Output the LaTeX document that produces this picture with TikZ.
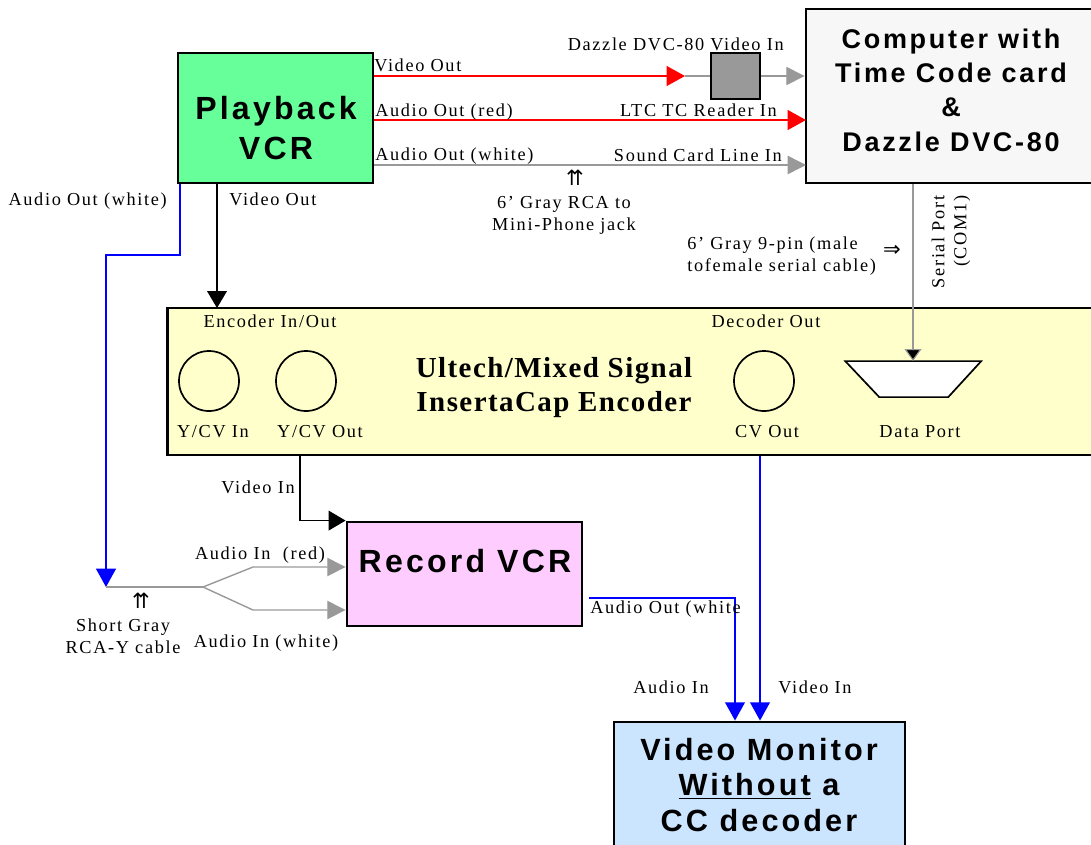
\documentclass[tikz,border=0pt]{standalone}
\usepackage{fontspec}
\usetikzlibrary{arrows.meta}
\usetikzlibrary{positioning}
\newfontfamily\labelfont[LetterSpace=9]{Liberation Serif}
\newfontfamily\titlefont[LetterSpace=5]{Liberation Serif}
\newfontfamily\boxfont[LetterSpace=10]{Liberation Sans}
\newfontfamily\symfont{DejaVu Sans}
\definecolor{vcrgreen}{HTML}{66FF99}
\definecolor{pcgray}{HTML}{F7F7F7}
\definecolor{encyellow}{HTML}{FFFFCC}
\definecolor{recpink}{HTML}{FFCCFF}
\definecolor{monblue}{HTML}{CCE5FF}
\definecolor{wiregray}{HTML}{999999}
\newcommand{\dataport}{\draw[line width = 1.2pt, fill = white] (-68,0) -- (68,0) -- (35,36) -- (-34,36) -- cycle;}
\tikzset{
	unit/.style = {draw, line width = 2pt, inner sep = 0pt},
	boxtitle/.style = {inner sep = 0pt, align = center, font = \boxfont\bfseries\fontsize{22.8}{28.5}\selectfont},
	lbl/.style = {inner sep = 0pt, font = \labelfont\fontsize{13}{15.6}\selectfont},
	upsign/.style = {inner sep = 0pt, font = \symfont\fontsize{15}{16}\selectfont},
	jack/.style = {circle, draw, line width = 1.2pt, minimum size = 1.5cm, inner sep = 0pt},
	redwire/.style = {draw = red, line width = 1.3pt, -{Triangle[length = 13pt, width = 14pt]}},
	graywire/.style = {draw = wiregray, line width = 1pt, -{Triangle[length = 13pt, width = 13pt]}},
	bluewire/.style = {draw = blue, line width = 1.4pt, -{Triangle[length = 13pt, width = 14pt]}},
	blackwire/.style = {draw = black, line width = 0.8pt, -{Triangle[length = 12pt, width = 14pt]}},
	serialwire/.style = {draw = wiregray, line width = 0.8pt, -{Triangle[length = 8.5pt, width = 12pt, fill = black]}}
}

\begin{document}
\begin{tikzpicture}[x = 0.025cm, y = -0.025cm]
	\useasboundingbox (0,0) rectangle (1091,844);
	\clip (0,0) rectangle (1091,844);

	% units
	\node[unit, fill = vcrgreen, minimum width = 4.875cm, minimum height = 3.25cm] (playback) at (275.5,118) {};
	\node[unit, fill = pcgray, minimum width = 7.3cm, minimum height = 4.35cm] (computer) at (952,96) {};
	\node[draw, line width = 1pt, fill = wiregray, minimum width = 1.225cm, minimum height = 1.15cm, inner sep = 0pt] (dazzle) at (735.5,76) {};
	\node[unit, fill = encyellow, minimum width = 23.55cm, minimum height = 3.675cm] (encoder) at (639,381.5) {};
	\node[unit, fill = recpink, minimum width = 5.875cm, minimum height = 2.6cm] (record) at (464.5,574) {};
	\node[unit, fill = monblue, minimum width = 7.275cm, minimum height = 3.95cm] (monitor) at (759.5,801) {};

	\node[boxtitle] (playbacktxt) at (276,128) {Playback\\VCR};
	\node[boxtitle, font = \boxfont\bfseries\fontsize{19.2}{24.4}\selectfont] (computertxt) at (951,90) {Computer with\\Time Code card\\\&\\Dazzle DVC-80};
	\node[boxtitle] (recordtxt) at (465,561) {Record VCR};
	\node[boxtitle, font = \boxfont\bfseries\fontsize{21.8}{25}\selectfont] (monitortxt) at (759,785) {Video Monitor\\\underline{Without} a\\CC decoder};
	\node[inner sep = 0pt, align = center, font = \titlefont\bfseries\fontsize{20.6}{24.2}\selectfont] (encodertxt) at (554,388) {Ultech/Mixed Signal\\InsertaCap Encoder};

	% encoder panel
	\node[jack] (ycvin) at (209,381) {};
	\node[jack] (ycvout) at (306,381) {};
	\node[jack] (cvout) at (764,381) {};
	\begin{scope}[xshift = 22.825cm, yshift = -9.025cm]
		\dataport
	\end{scope}
	\coordinate (dataport) at (913,361);

	\node[lbl] (encinout) at (270,321) {Encoder In/Out};
	\node[lbl] (decout) at (766,321) {Decoder Out};
	\node[lbl] (ycvinlbl) at (213,432) {Y/CV In};
	\node[lbl] (ycvoutlbl) at (320,432) {Y/CV Out};
	\node[lbl] (cvoutlbl) at (767,432) {CV Out};
	\node[lbl] (dataportlbl) at (920,432) {Data Port};

	% playback to computer
	\coordinate (redtip) at (685,76);
	\coordinate (ltc) at (806,120);
	\coordinate (soundcard) at (806,165);
	\draw[redwire] (playback.east |- dazzle.west) -- (redtip);
	\draw[graywire, -] (redtip) -- (dazzle.west);
	\draw[graywire] (dazzle.east) -- (computer.west |- dazzle.east);
	\draw[redwire] (playback.east |- ltc) -- (ltc);
	\draw[graywire] (playback.east |- soundcard) -- (soundcard);

	\node[lbl, anchor = base west] (vidoutlbl) at (374,71) {Video Out};
	\node[lbl, anchor = base west] (audredlbl) at (375,116) {Audio Out (red)};
	\node[lbl, anchor = base west] (audwhitelbl) at (375,160) {Audio Out (white)};
	\node[lbl, anchor = base east] (dazzlelbl) at (784,50) {Dazzle DVC-80 Video In};
	\node[lbl, anchor = base east] (ltclbl) at (777,116) {LTC TC Reader In};
	\node[lbl, anchor = base east] (soundlbl) at (782,161) {Sound Card Line In};
	\node[upsign] (rcasign) at (575,178) {⇈};
	\node[lbl, align = center] (rcalbl) at (564,215) {6’ Gray RCA to\\Mini-Phone jack};

	% serial cable
	\draw[serialwire] (computer.south -| dataport) -- (dataport);
	\node[lbl, align = left, anchor = west] (seriallbl) at (687,256) {6’ Gray 9-pin (male\\tofemale serial cable)};
	\node[upsign] (serialsign) at (892,251) {⇒};
	\node[lbl, align = right, rotate = 90] (comlbl) at (951,242) {Serial Port\\(COM1)};

	% playback to encoder and record
	\coordinate (encin) at (217,308);
	\coordinate (ycable) at (106,587);
	\coordinate (yfork) at (203,587);
	\draw[blackwire] (playback.south -| encin) -- (encin);
	\draw[bluewire] (playback.south -| 180,0) |- (ycable |- 0,255) -- (ycable);
	\node[lbl, anchor = base east] (pbaudlbl) at (167,205) {Audio Out (white)};
	\node[lbl, anchor = base west] (pbvidlbl) at (229,205) {Video Out};

	\draw[graywire, -] (ycable) -- (yfork);
	\draw[graywire] (yfork) -- (253,567) -- (record.west |- 0,567);
	\draw[graywire] (yfork) -- (253,610) -- (record.west |- 0,610);
	\node[lbl] (audinred) at (260,555) {Audio In \ (red)};
	\node[lbl] (audinwhite) at (266,643) {Audio In (white)};
	\node[upsign] (ysign) at (141,601) {⇈};
	\node[lbl, align = center] (ylbl) at (123,636) {Short Gray\\RCA-Y cable};

	\draw[blackwire] (encoder.south -| 300,0) |- (record.north west);
	\node[lbl, anchor = east] (recvidlbl) at (295,487) {Video In};

	% to monitor
	\coordinate (recout) at (589,598);
	\draw[bluewire] (recout) -| (monitor.north -| 735,0);
	\draw[bluewire] (encoder.south -| 760,0) -- (monitor.north -| 760,0);
	\node[lbl, anchor = base west] (recaudlbl) at (590,613) {Audio Out (white};
	\node[lbl] (monaudlbl) at (671,687) {Audio In};
	\node[lbl] (monvidlbl) at (815,687) {Video In};

\end{tikzpicture}
\end{document}
